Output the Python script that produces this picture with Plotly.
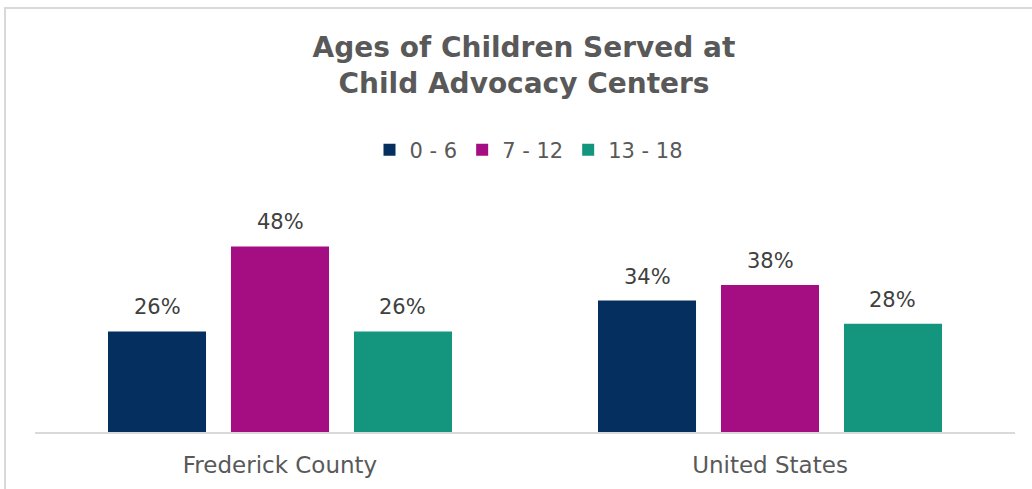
import plotly.graph_objects as go

categories = ["Frederick County", "United States"]
series_names = ["0 - 6", "7 - 12", "13 - 18"]
values_0_6 = [0.26, 0.34]
values_7_12 = [0.48, 0.38]
values_13_18 = [0.26, 0.28]
colors = ["#052f5f", "#a50e82", "#13967d"]

W, H = 1032, 489
L, R, T, B = 35, 17, 200, 57
plot_w = W - L - R
plot_h = H - T - B

BARGAP = 0.247
GROUPGAP = 0.203
slot_px = plot_w / len(categories) * (1 - BARGAP) / len(series_names)

fig = go.Figure()
annotations = []
all_vals = [values_0_6, values_7_12, values_13_18]
for i, (name, vals, col) in enumerate(zip(series_names, all_vals, colors)):
    fig.add_trace(go.Bar(
        x=categories, y=vals, name=name, marker_color=col,
        marker_line_width=0, hoverinfo="skip",
    ))
    for c, v in zip(categories, vals):
        annotations.append(dict(
            x=c, y=v, xref="x", yref="y", text=f"{round(v * 100)}%",
            showarrow=False, yanchor="bottom", xanchor="center",
            xshift=(i - 1) * slot_px, yshift=10,
            font=dict(size=21, color="#404040", family="DejaVu Sans"),
        ))

def px_x(p):
    return (p - L) / plot_w

def px_y(p):
    return (H - B - p) / plot_h

fig.update_layout(
    width=W, height=H,
    margin=dict(l=L, r=R, t=T, b=B),
    paper_bgcolor="white", plot_bgcolor="white",
    barmode="group", bargap=BARGAP, bargroupgap=GROUPGAP,
    font=dict(family="DejaVu Sans", color="#595959"),
    title=dict(
        text="Ages of Children Served at<br>Child Advocacy Centers",
        x=524 / W, xanchor="center", y=1 - 57 / H, yanchor="top",
        font=dict(size=28, color="#595959", family="DejaVu Sans", weight="bold"),
    ),
    legend=dict(
        orientation="h", x=px_x(529), xanchor="center", y=px_y(150), yanchor="middle",
        font=dict(size=21, color="#595959"), itemwidth=30, traceorder="normal",
    ),
    showlegend=True,
    annotations=annotations,
    xaxis=dict(
        showline=True, linecolor="#d9d9d9", linewidth=2, ticks="",
        tickfont=dict(size=23, color="#595959"), ticklabelstandoff=11,
        showgrid=False,
    ),
    yaxis=dict(range=[0, 0.6], visible=False, showgrid=False, zeroline=False),
    shapes=[dict(
        type="rect", xref="paper", yref="paper",
        x0=px_x(5), x1=px_x(1045), y0=px_y(8), y1=px_y(500),
        line=dict(color="#d9d9d9", width=2), fillcolor="rgba(0,0,0,0)", layer="below",
    )],
)

fig.write_html("out.html", config={"displayModeBar": False},
               post_script="document.body.style.margin='0';")
